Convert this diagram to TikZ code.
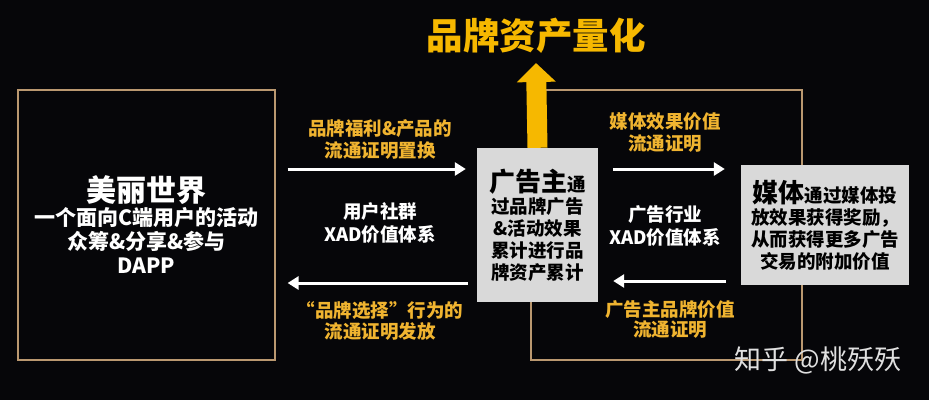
\documentclass[tikz,border=0pt]{standalone}
\usepackage{fontspec}
\setmainfont{Noto Sans CJK SC}
\usepackage{xcolor}
\usetikzlibrary{arrows.meta,positioning}
\definecolor{nightbg}{RGB}{6,6,9}
\definecolor{brandgold}{RGB}{246,184,0}
\definecolor{labelgold}{RGB}{240,180,48}
\definecolor{framebrown}{RGB}{186,152,112}
\definecolor{panelgray}{RGB}{217,217,217}

\begin{document}
\begin{tikzpicture}[
    x=1pt, y=-1pt,
    frame/.style={rectangle, draw=framebrown, line width=1.2pt, inner sep=0pt, align=center},
    panel/.style={rectangle, fill=panelgray, inner sep=0pt, align=center, text=black, font=\bfseries\fontsize{18.5}{22}\selectfont},
    gold/.style={align=center, text=labelgold, font=\bfseries\fontsize{18.5}{22}\selectfont},
    plain/.style={align=center, text=white, font=\bfseries\fontsize{18.5}{23}\selectfont},
    warrow/.style={draw=white, line width=3pt, -{Triangle[length=11pt,width=13pt]}}
]
\fill[nightbg] (0,0) rectangle (929,400);
\useasboundingbox (0,0) rectangle (929,400);

% frames
\node[frame, minimum width=257pt, minimum height=270pt, text=white, font=\bfseries\fontsize{21}{24}\selectfont] (world) at (146.5,225)
    {{\fontsize{30}{36}\selectfont 美丽世界}\\一个面向C端用户的活动\\众筹\&分享\&参与\\DAPP};
\node[frame, minimum width=271pt, minimum height=270pt] (ring) at (666.5,225) {};

% boxes
\node[panel, minimum width=121pt, minimum height=154pt] (adv) at (537.5,225)
    {{\fontsize{26}{30}\selectfont 广告主}通\\过品牌广告\\\&活动效果\\累计进行品\\牌资产累计};
\node[panel, minimum width=168pt, minimum height=120pt] (media) at (825,225)
    {{\fontsize{26}{30}\selectfont 媒体}通过媒体投\\放效果获得奖励，\\从而获得更多广告\\交易的附加价值};

% title and big arrow
\node[text=brandgold, font=\bfseries\fontsize{36.5}{40}\selectfont] (goal) at (536,36) {品牌资产量化};
\coordinate (tip) at (536,63);
\draw[brandgold, line width=20pt, -{Triangle[length=19pt,width=38pt]}] (adv.north) -- (tip);

% arrows
\draw[warrow, shorten <=12pt, shorten >=11pt] ([yshift=56pt]world.east) -- ([yshift=56pt]adv.west);
\draw[warrow, shorten <=9pt, shorten >=12pt] ([yshift=-58pt]adv.west) -- ([yshift=-58pt]world.east);
\draw[warrow, shorten <=15pt, shorten >=16pt] ([yshift=56pt]adv.east) -- ([yshift=56pt]media.west);
\draw[warrow, shorten <=15pt, shorten >=15pt] ([yshift=-56pt]media.west) -- ([yshift=-56pt]adv.east);

% labels
\node[gold] (swap) at (380,139) {品牌福利\&产品的\\流通证明置换};
\node[plain] (users) at (380,223) {用户社群\\XAD价值体系};
\node[gold, font=\bfseries\fontsize{18.5}{21}\selectfont] (issue) at (380,321) {“品牌选择”行为的\\流通证明发放};
\node[gold] (effect) at (665,132.5) {媒体效果价值\\流通证明};
\node[plain] (trade) at (665,226) {广告行业\\XAD价值体系};
\node[gold, font=\bfseries\fontsize{18.5}{20}\selectfont] (value) at (670,319) {广告主品牌价值\\流通证明};

\node[text=white!88!black, font=\fontsize{27}{30}\selectfont] (mark) at (818,360) {知乎 @桃殀殀};
\end{tikzpicture}
\end{document}
